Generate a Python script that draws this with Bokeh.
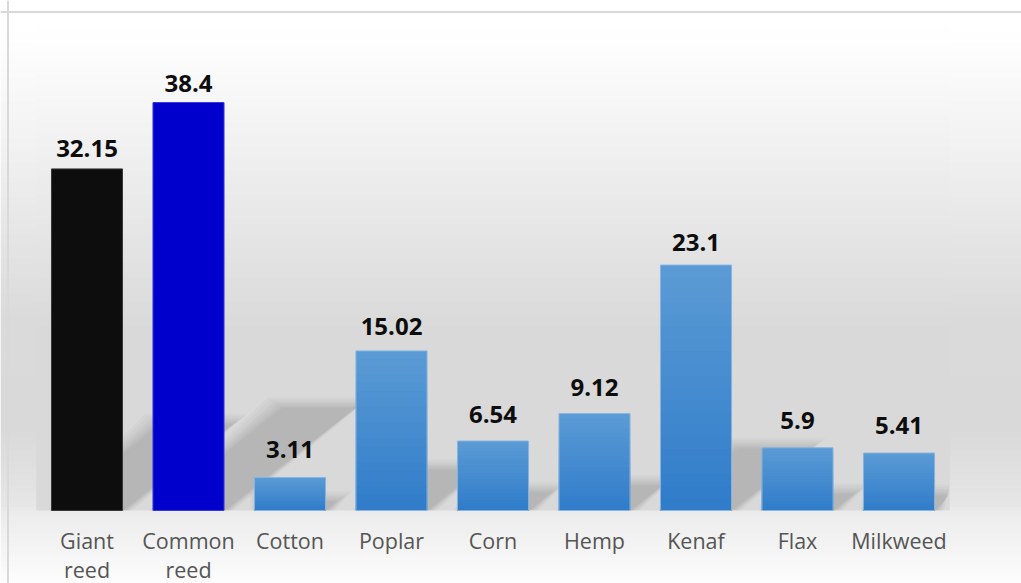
import numpy as np
from bokeh.plotting import figure
from bokeh.models import Range1d, Span, ColumnDataSource
from bokeh.core.properties import value
from bokeh.embed import file_html
from bokeh.resources import INLINE

# ---------------- data ----------------
categories = ["Giant reed", "Common reed", "Cotton", "Poplar", "Corn",
              "Hemp", "Kenaf", "Flax", "Milkweed"]
values = [32.15, 38.4, 3.11, 15.02, 6.54, 9.12, 23.1, 5.9, 5.41]
value_labels = ["32.15", "38.4", "3.11", "15.02", "6.54", "9.12", "23.1", "5.9", "5.41"]

# ---------------- styles ----------------
solid_colors = {0: "#0d0d0d", 1: "#0000cc"}
solid_lines = {0: "#3a3a3a", 1: "#3a3ad8"}
grad_top = (91, 155, 213)
grad_bot = (48, 124, 201)
blue_line = "#86b4e2"

W, H = 1021, 583
PXX = 101.5          # px per category
PXY = 10.625         # px per unit
X0PX = 86.5          # first category center (px)
BASE = 510.0         # baseline (px from top)

x_start = -X0PX / PXX
x_end = (W - X0PX) / PXX
y_end = BASE / PXY
y_start = -(H - BASE) / PXY

def py2y(py):
    return (BASE - py) / PXY

def hexc(rgb):
    return "#%02x%02x%02x" % tuple(int(round(c)) for c in rgb)

def h2rgb(h):
    h = h.lstrip("#")
    return tuple(int(h[i:i + 2], 16) for i in (0, 2, 4))

def interp(stops, py):
    for (a, ca), (b, cb) in zip(stops[:-1], stops[1:]):
        if a <= py <= b:
            t = 0 if b == a else (py - a) / (b - a)
            A, B = h2rgb(ca), h2rgb(cb)
            return hexc([A[i] + (B[i] - A[i]) * t for i in range(3)])
    return stops[0][1] if py < stops[0][0] else stops[-1][1]

p = figure(width=W, height=H, x_range=Range1d(x_start, x_end),
           y_range=Range1d(y_start, y_end), output_backend="svg",
           toolbar_location=None, min_border=0)
p.axis.visible = False
p.grid.visible = False
p.outline_line_color = None
p.background_fill_color = "#ffffff"
p.border_fill_color = "#ffffff"

# chart-area gradient
chart_stops = [(0, "#ffffff"), (30, "#ffffff"), (150, "#f1f1f1"), (320, "#dadada"),
               (430, "#d9d9d9"), (505, "#e6e6e6"), (513, "#ececec"),
               (545, "#f3f3f3"), (583, "#fdfdfd")]
step = 3
pys = np.arange(0, H, step)
p.quad(left=x_start, right=x_end,
       top=[py2y(v) + 0.05 for v in pys], bottom=[py2y(v + step) for v in pys],
       fill_color=[interp(chart_stops, v + step / 2) for v in pys], line_color=None)

# plot-area gradient (from top border to baseline)
plot_stops = [(11, "#ffffff"), (40, "#fefefe"), (150, "#f0f0f0"), (330, "#d9d9d9"), (510, "#d9d9d9")]
n = len(categories)
pys2 = np.arange(11, 510, step)
p.quad(left=-0.5, right=n - 0.5,
       top=[py2y(v) + 0.05 for v in pys2], bottom=[max(0.0, py2y(v + step)) for v in pys2],
       fill_color=[interp(plot_stops, v + step / 2) for v in pys2], line_color=None)

x = np.arange(n)
vals = np.array(values)
bw = 0.70

# soft perspective shadows
shift = vals * 0.0335
sh_top = vals * 0.25
for grow in [0.16, 0.13, 0.10, 0.08, 0.06, 0.04, 0.025, 0.01]:
    gy = grow * PXX / PXY * 0.7
    xs, ys = [], []
    for xi, v, s, t in zip(x, vals, shift, sh_top):
        xs.append([xi - bw / 2 - grow * 0.2, xi + bw / 2 + grow * 0.6,
                   min(xi + bw / 2 + s + grow, n - 0.5), xi - bw / 2 + s - grow])
        ys.append([0, 0, t + gy, t + gy])
    p.patches(xs, ys, fill_color="#000000", fill_alpha=0.018, line_color=None)

# bars
fills = [solid_colors.get(i, hexc(grad_top)) for i in range(n)]
lines = [solid_lines.get(i, blue_line) for i in range(n)]
src = ColumnDataSource(dict(x=x, top=vals, fill=fills, line=lines,
                            cat=categories, lab=value_labels))
p.vbar(x="x", top="top", bottom=0, width=bw, fill_color="fill", line_color=None, source=src)

# gradient on the blue bars (nested bars, each one shorter and darker)
gi = [i for i in range(n) if i not in solid_colors]
N = 20
for j in range(1, N):
    f = 1 - j / N
    t = (f - 0.5 / N)
    col = hexc([grad_bot[k] + (grad_top[k] - grad_bot[k]) * t for k in range(3)])
    p.vbar(x=x[gi], top=vals[gi] * f, bottom=0, width=bw, fill_color=col, line_color=None)

p.vbar(x="x", top="top", bottom=0, width=bw, fill_color=None, line_color="line",
       line_width=1, source=src)

# value labels
offs = [-(19 + 0.25 * (max(values) - v)) for v in values]
src.data["off"] = offs
p.text(x="x", y="top", text="lab", y_offset="off", source=src,
       text_font=value("Open Sans"), text_font_style="bold", text_font_size="24px",
       text_color="#0d0d0d", text_align="center", text_baseline="alphabetic")

# category labels
src.data["cl"] = [c.replace(" ", "\n") for c in categories]
p.text(x="x", y=0, text="cl", source=src, y_offset=15,
       text_font=value("Open Sans"), text_font_size="21.5px", text_color="#555555",
       text_align="center", text_baseline="top", text_line_height=1.0)

# chart border (left and top visible)
p.add_layout(Span(location=(7.5 - X0PX) / PXX, dimension="height",
                  line_color="#d9d9d9", line_width=2))
p.add_layout(Span(location=py2y(11.5), dimension="width",
                  line_color="#d9d9d9", line_width=2))

open("out.html", "w").write(file_html(p, INLINE))
